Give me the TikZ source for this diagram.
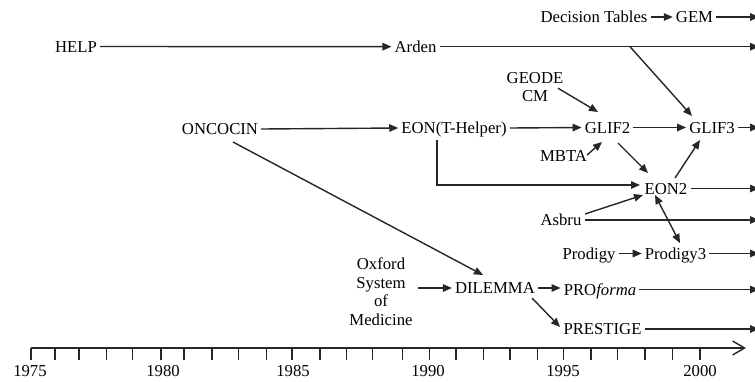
\documentclass[tikz,border=0pt]{standalone}
\usepackage{fontspec}
\setmainfont{Liberation Serif}
\usetikzlibrary{arrows.meta}
\begin{document}
\begin{tikzpicture}[x=1pt,y=-1pt,
  lbl/.style={font=\fontsize{16.7}{18.7}\selectfont, text=black, inner xsep=3pt, inner ysep=2pt, text height=11pt, text depth=0pt},
  multi/.style={font=\fontsize{16.7}{18.6}\selectfont, text=black, inner sep=0pt, align=center},
  yr/.style={font=\fontsize{16.7}{18.7}\selectfont, text=black, inner sep=0pt, text height=11pt, text depth=0pt},
  conn/.style={draw=black!85, line width=1.4pt, -{Triangle[length=9pt,width=7.5pt]}},
  plainline/.style={draw=black!85, line width=1.4pt},
  twoway/.style={draw=black!85, line width=1.4pt, {Triangle[length=9pt,width=7.5pt]}-{Triangle[length=9pt,width=7.5pt]}}]
\fill[white] (0,0) rectangle (755,381);
\useasboundingbox (0,0) rectangle (755,381);
\coordinate (edge) at (759,0);

% nodes
\node[lbl] (help) at (76,46.5) {HELP};
\node[lbl] (arden) at (415.5,46.7) {Arden};
\node[lbl] (dt) at (594,17) {Decision Tables};
\node[lbl] (gem) at (694.5,17) {GEM};
\node[multi] (geode) at (535,87.2) {GEODE\\CM};
\node[lbl] (oncocin) at (220,129) {ONCOCIN};
\node[lbl] (eonth) at (454,128) {EON(T-Helper)};
\node[lbl] (glif2) at (607.5,127.5) {GLIF2};
\node[lbl] (glif3) at (712,127.5) {GLIF3};
\node[lbl] (mbta) at (563.5,156) {MBTA};
\node[lbl] (eon2) at (666,188.5) {EON2};
\node[lbl] (asbru) at (561,220) {Asbru};
\node[lbl] (prodigy) at (589,253.5) {Prodigy};
\node[lbl] (prodigy3) at (675.5,253.5) {Prodigy3};
\node[multi] (oxford) at (381,291.5) {Oxford\\System\\of\\Medicine};
\node[lbl] (dilemma) at (495,288) {DILEMMA};
\node[lbl] (proforma) at (600,289.5) {PRO\textit{forma}};
\node[lbl] (prestige) at (602.5,329) {PRESTIGE};

% horizontal connectors
\draw[conn] (help.east) -- (arden.west);
\draw[conn] (arden.east) -- (arden.east -| edge);
\draw[conn] (dt.east) -- (gem.west);
\draw[conn] (gem.east) -- (gem.east -| edge);
\draw[conn] (oncocin.east) -- (eonth.west);
\draw[conn] (eonth.east) -- (glif2.west);
\draw[conn] (glif2.east) -- (glif3.west);
\draw[conn] (glif3.east) -- (glif3.east -| edge);
\draw[conn] (eon2.east) -- (eon2.east -| edge);
\draw[conn] (asbru.east) -- (asbru.east -| edge);
\draw[conn] (prodigy.east) -- (prodigy3.west);
\draw[conn] (prodigy3.east) -- (prodigy3.east -| edge);
\draw[conn] ([xshift=5pt]oxford.east |- dilemma.west) -- (dilemma.west);
\draw[conn] (dilemma.east) -- (dilemma.east -| proforma.west);
\draw[conn] (proforma.east) -- (proforma.east -| edge);
\draw[conn] (prestige.east) -- (prestige.east -| edge);

% diagonal / bent connectors
\coordinate (asplit) at (630,46.7);
\draw[conn] (asplit) -- ([shift={(-20,-11.5)}]glif3.center);
\draw[conn] ([shift={(23,1)}]geode.center) -- ([shift={(-9.5,-15.5)}]glif2.center);
\draw[conn] ([shift={(23.5,-1)}]mbta.center) -- ([shift={(-5.5,14.5)}]glif2.center);
\draw[conn] ([shift={(10.5,15.5)}]glif2.center) -- ([shift={(-18,-15.5)}]eon2.center);
\draw[conn] ([shift={(9,-10.5)}]eon2.center) -- ([shift={(-12,12.5)}]glif3.center);
\draw[conn] ([shift={(-17,12)}]eonth.center) |- ([shift={(-26,-3.5)}]eon2.center);
\draw[conn] ([shift={(24,-6)}]asbru.center) -- ([shift={(-23,6.5)}]eon2.center);
\draw[twoway] ([shift={(-11,6.5)}]eon2.center) -- ([shift={(4.5,-10.5)}]prodigy3.center);
\draw[conn] ([shift={(13,13)}]oncocin.center) -- ([shift={(-12,-13)}]dilemma.center);
\draw[conn] ([shift={(37,10)}]dilemma.center) -- ([shift={(-42.5,-2)}]prestige.center);

% time axis
\coordinate (axstart) at (31,348);
\coordinate (axend) at (746,348);
\draw[plainline, -{Straight Barb[length=12pt,width=14pt]}] (axstart) -- (axend);
\foreach \x in {31,55,79,106.7,132.7,161,184,212,238.7,266.7,292,320,346.7,372.3,402.7,429.3,456,483.3,510,537.7,563.3,591,617.3,645,672.7,700}
  \draw[plainline] (\x,348) -- (\x,360);
\foreach \x/\y in {30/1975,163/1980,293/1985,428/1990,563/1995,700/2000}
  \node[yr] (y\y) at (\x,370.5) {\y};
\end{tikzpicture}
\end{document}
